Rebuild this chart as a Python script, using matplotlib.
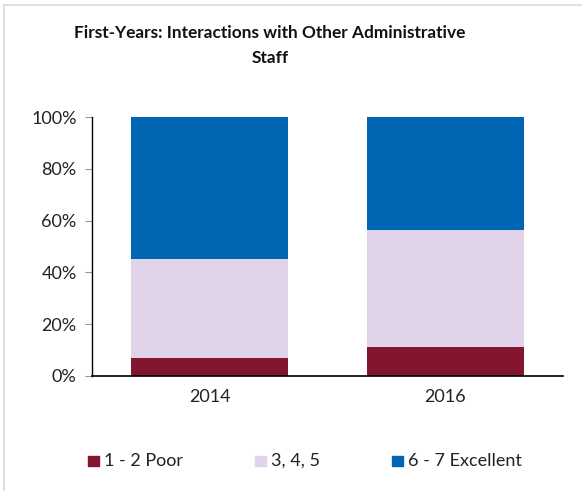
import matplotlib
matplotlib.use("Agg")
import matplotlib.pyplot as plt
from matplotlib.lines import Line2D
import numpy as np

years = ["2014", "2016"]
poor = [7.1, 11.3]
mid = [38.0, 45.0]
excellent = [54.9, 43.7]
series_labels = ["1 - 2 Poor", "3, 4, 5", "6 - 7 Excellent"]
colors = ["#84152F", "#E0D3EA", "#0066B3"]
yticks = [0, 20, 40, 60, 80, 100]

plt.rcParams['font.family'] = ['Lato', 'DejaVu Sans']

W, H = 582, 491
fig = plt.figure(figsize=(W / 100, H / 100), dpi=100)
ax = fig.add_axes([92 / W, 1 - 376 / H, (563 - 92) / W, (376 - 117) / H])

x = np.arange(len(years))
bw = 0.665
bottom = np.zeros(len(years))
for vals, c, lab in zip([poor, mid, excellent], colors, series_labels):
    ax.bar(x, vals, bw, bottom=bottom, color=c, label=lab, linewidth=0)
    bottom += np.array(vals)

ax.set_xlim(-0.5, 1.5)
ax.set_ylim(0, 100)
ax.set_yticks(yticks)
ax.set_yticklabels([f"{t}%" for t in yticks], fontsize=13, color="#222222")
ax.set_xticks(x)
ax.set_xticklabels(years, fontsize=13, color="#222222")
ax.tick_params(axis='x', length=0, pad=9)
ax.tick_params(axis='y', length=5, color="#999999", pad=6, width=0.8)
for s in ["top", "right"]:
    ax.spines[s].set_visible(False)
ax.spines["left"].set_linewidth(1.0)
ax.spines["bottom"].set_linewidth(1.2)

fig.text(270 / W, 1 - 33 / H, "First-Years: Interactions with Other Administrative",
         ha="center", va="center", fontsize=12.4, fontweight="bold", color="#111111")
fig.text(270 / W, 1 - 58 / H, "Staff",
         ha="center", va="center", fontsize=12.4, fontweight="bold", color="#111111")

# legend
ly = 1 - 461 / H
for mx, tx, c, lab in zip([88, 255, 392], [104, 271, 408], colors, series_labels):
    fig.patches.append(plt.Rectangle((mx / W, 1 - 466 / H), 11 / W, 10 / H,
                                     transform=fig.transFigure, color=c, figure=fig))
    fig.text(tx / W, ly, lab, ha="left", va="center", fontsize=13, color="#222222")

# chart border (left and top)
fig.add_artist(Line2D([4 / W, 4 / W], [0, 1 - 5 / H], transform=fig.transFigure,
                      color="#D9D9D9", linewidth=1.2))
fig.add_artist(Line2D([4 / W, 1], [1 - 5 / H, 1 - 5 / H], transform=fig.transFigure,
                      color="#D9D9D9", linewidth=1.2))

fig.savefig("out.png", dpi=100)
